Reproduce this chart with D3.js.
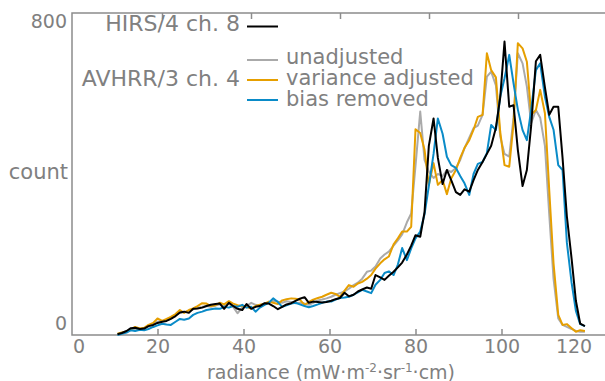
<!DOCTYPE html>
<html>
<head>
<meta charset="utf-8">
<script src="https://cdn.jsdelivr.net/npm/d3@7"></script>
<style>
  body { margin: 0; background: #fff; }
  text { font-family: "DejaVu Sans", Verdana, sans-serif; fill: #808080; }
</style>
</head>
<body>
<div id="chart"></div>
<script>
// radiance bin centres (mW m-2 sr-1 cm)
var radiance = [10.7,11.7,12.8,13.8,14.8,15.9,16.9,17.9,19.0,20.0,21.1,22.1,23.1,24.2,25.2,26.2,27.3,28.3,29.3,30.4,
  31.4,32.4,33.5,34.5,35.5,36.6,37.6,38.6,39.7,40.7,41.8,42.8,43.8,44.9,45.9,46.9,48.0,49.0,50.0,51.1,
  52.1,53.1,54.2,55.2,56.2,57.3,58.3,59.3,60.4,61.4,62.4,63.5,64.5,65.6,66.6,67.6,68.7,69.7,70.7,71.8,
  72.8,73.8,74.9,75.9,76.9,78.0,79.0,80.0,81.1,82.1,83.1,84.2,85.2,86.3,87.3,88.3,89.4,90.4,91.4,92.5,
  93.5,94.5,95.6,96.6,97.6,98.7,99.7,100.7,101.8,102.8,103.8,104.9,105.9,106.9,108.0,109.0,110.1,111.1,112.1,113.2,
  114.2,115.2,116.3,117.3,118.3,119.4];

// HIRS/4 ch. 8 counts
var hirs = [2,5,10,17,18,15,16,22,25,30,33,35,40,47,56,58,55,65,66,68,
  72,75,77,78,65,80,72,65,62,77,65,70,72,79,78,72,64,70,76,79,
  85,90,94,80,83,82,81,82,85,89,92,105,96,100,108,113,118,115,149,143,
  137,147,157,168,180,200,222,248,244,305,470,538,440,375,410,385,355,348,362,356,
  385,410,430,450,470,515,590,729,567,571,460,370,410,520,680,696,615,547,567,567,
  440,295,190,85,28,22];

// AVHRR/3 ch. 4 counts
var unadjusted = [2,5,8,12,16,12,17,22,27,33,34,38,44,50,55,57,60,64,67,70,
  72,70,73,76,72,78,70,54,68,72,80,75,72,78,80,85,83,80,84,82,
  79,80,78,75,80,86,88,91,95,100,104,108,115,124,130,140,157,160,170,190,
  200,207,222,235,250,280,302,420,555,435,406,390,400,395,410,405,415,435,464,490,
  514,520,547,642,654,620,493,450,443,540,700,675,617,526,559,540,470,300,140,41,
  25,20,15,10,8,8];

var varianceAdjusted = [3,6,9,14,20,16,18,25,30,41,35,40,45,52,62,55,62,66,72,79,
  78,72,74,80,76,84,78,74,72,70,66,72,75,78,83,80,77,86,89,91,
  90,88,75,82,88,92,95,100,105,102,95,110,124,120,128,132,140,149,165,178,
  188,195,225,240,257,257,269,511,502,460,373,427,373,385,350,389,410,440,465,484,
  510,542,547,700,658,640,505,422,418,526,725,712,679,547,559,609,551,360,178,50,
  25,27,17,8,12,10];

var biasRemoved = [0,3,6,12,10,13,12,15,20,24,28,26,25,33,40,38,41,50,55,58,
  62,64,66,65,70,68,72,70,75,68,70,58,68,75,80,91,82,70,74,78,
  80,76,72,69,72,76,80,83,83,88,92,93,95,100,106,112,108,104,125,137,
  154,158,149,175,216,186,215,240,257,300,370,450,538,500,443,422,415,395,377,348,
  400,425,430,452,522,509,592,638,696,625,560,509,484,560,658,675,592,542,510,422,
  410,230,130,60,27,22];

var xTicks = [0, 20, 40, 60, 80, 100, 120];
var topTicks = [20, 40, 60, 80, 100];
var yTicks = [0, 800];

var svgWidth = 605;
var svgHeight = 381;

var svg = d3.select("#chart")
  .append("svg")
  .attr("width", svgWidth)
  .attr("height", svgHeight);

// plot frame (note: "top" is taken by window.top, so keep it in an object)
var frame = { left: 72, top: 13, bottom: 335, right: 605 };

var xScale = d3.scaleLinear().domain([0, 120]).range([71.5, 587.5]);
var yScale = d3.scaleLinear().domain([0, 800]).range([frame.bottom, frame.top]);
// the top edge carries its own (unlabelled) ticks
var topScale = d3.scaleLinear().domain([0, 120]).range([73, 607]);

var axisColor = "#8c8c8c";

// bottom axis, ticks pointing inwards
var xAxis = svg.append("g")
  .attr("transform", `translate(0, ${frame.bottom})`)
  .call(d3.axisBottom(xScale).tickValues(xTicks).tickSizeInner(-6).tickSizeOuter(0).tickPadding(5));

xAxis.select(".domain").remove();
xAxis.selectAll(".tick line").attr("stroke", axisColor).attr("stroke-width", 1.5);
xAxis.selectAll(".tick text")
  .attr("font-size", "19px")
  .attr("fill", "#808080")
  .attr("dx", d => d === 0 ? 7 : (d === 120 ? -14 : 0));
xAxis.selectAll(".tick").filter(d => d === 0 || d === 120).select("line").remove();

var xTop = svg.append("g")
  .attr("transform", `translate(0, ${frame.top})`)
  .call(d3.axisTop(topScale).tickValues(topTicks).tickSizeInner(-6).tickSizeOuter(0).tickFormat(""));
xTop.select(".domain").remove();
xTop.selectAll(".tick line").attr("stroke", axisColor).attr("stroke-width", 1.5);

// frame lines
svg.append("path")
  .attr("d", `M${frame.right},${frame.top}H${frame.left}V${frame.bottom}H${frame.right}`)
  .attr("fill", "none")
  .attr("stroke", axisColor)
  .attr("stroke-width", 1.5);

// y labels, only the ends
var yAxis = svg.append("g")
  .attr("transform", `translate(${frame.left}, 0)`)
  .call(d3.axisLeft(yScale).tickValues(yTicks).tickSize(0).tickPadding(5));
yAxis.select(".domain").remove();
yAxis.selectAll(".tick text")
  .attr("font-size", "19px")
  .attr("fill", "#808080")
  .attr("dy", d => d === 800 ? "0.75em" : "-0.3em");

svg.append("text")
  .attr("x", 68)
  .attr("y", 179)
  .attr("text-anchor", "end")
  .attr("font-size", "21px")
  .text("count");

var xLabel = svg.append("text")
  .attr("x", 331)
  .attr("y", 379)
  .attr("text-anchor", "middle")
  .attr("font-size", "19px");
xLabel.append("tspan").text("radiance (mW·m");
xLabel.append("tspan").attr("font-size", "12px").attr("dy", -7).text("-2");
xLabel.append("tspan").attr("dy", 7).text("·sr");
xLabel.append("tspan").attr("font-size", "12px").attr("dy", -7).text("-1");
xLabel.append("tspan").attr("dy", 7).text("·cm)");

// lines
var series = [
  { name: "unadjusted", values: unadjusted, color: "#aaaaaa" },
  { name: "variance adjusted", values: varianceAdjusted, color: "#e69f00" },
  { name: "bias removed", values: biasRemoved, color: "#0a8bc8" },
  { name: "HIRS/4 ch. 8", values: hirs, color: "#000000" }
];

var line = d3.line()
  .x((d, i) => xScale(radiance[i]))
  .y(d => yScale(d));

svg.append("g")
  .selectAll("path")
  .data(series)
  .enter()
  .append("path")
  .attr("d", d => line(d.values))
  .attr("fill", "none")
  .attr("stroke", d => d.color)
  .attr("stroke-width", 2)
  .attr("stroke-linejoin", "round");

// legend
var legend = svg.append("g");

legend.append("text")
  .attr("x", 240).attr("y", 31)
  .attr("text-anchor", "end")
  .attr("font-size", "22px")
  .text("HIRS/4 ch. 8");
legend.append("line")
  .attr("x1", 247).attr("x2", 278).attr("y1", 26.5).attr("y2", 26.5)
  .attr("stroke", "#000").attr("stroke-width", 2);

legend.append("text")
  .attr("x", 240).attr("y", 86)
  .attr("text-anchor", "end")
  .attr("font-size", "22px")
  .text("AVHRR/3 ch. 4");

var avhrr = series.slice(0, 3);
legend.selectAll(".entry")
  .data(avhrr)
  .enter()
  .append("line")
  .attr("x1", 247).attr("x2", 278)
  .attr("y1", (d, i) => 60 + i * 20).attr("y2", (d, i) => 60 + i * 20)
  .attr("stroke", d => d.color)
  .attr("stroke-width", 2);

legend.selectAll(".entryText")
  .data(avhrr)
  .enter()
  .append("text")
  .attr("x", 286)
  .attr("y", (d, i) => 64 + i * 21)
  .attr("font-size", "21px")
  .text(d => d.name);
</script>
</body>
</html>
